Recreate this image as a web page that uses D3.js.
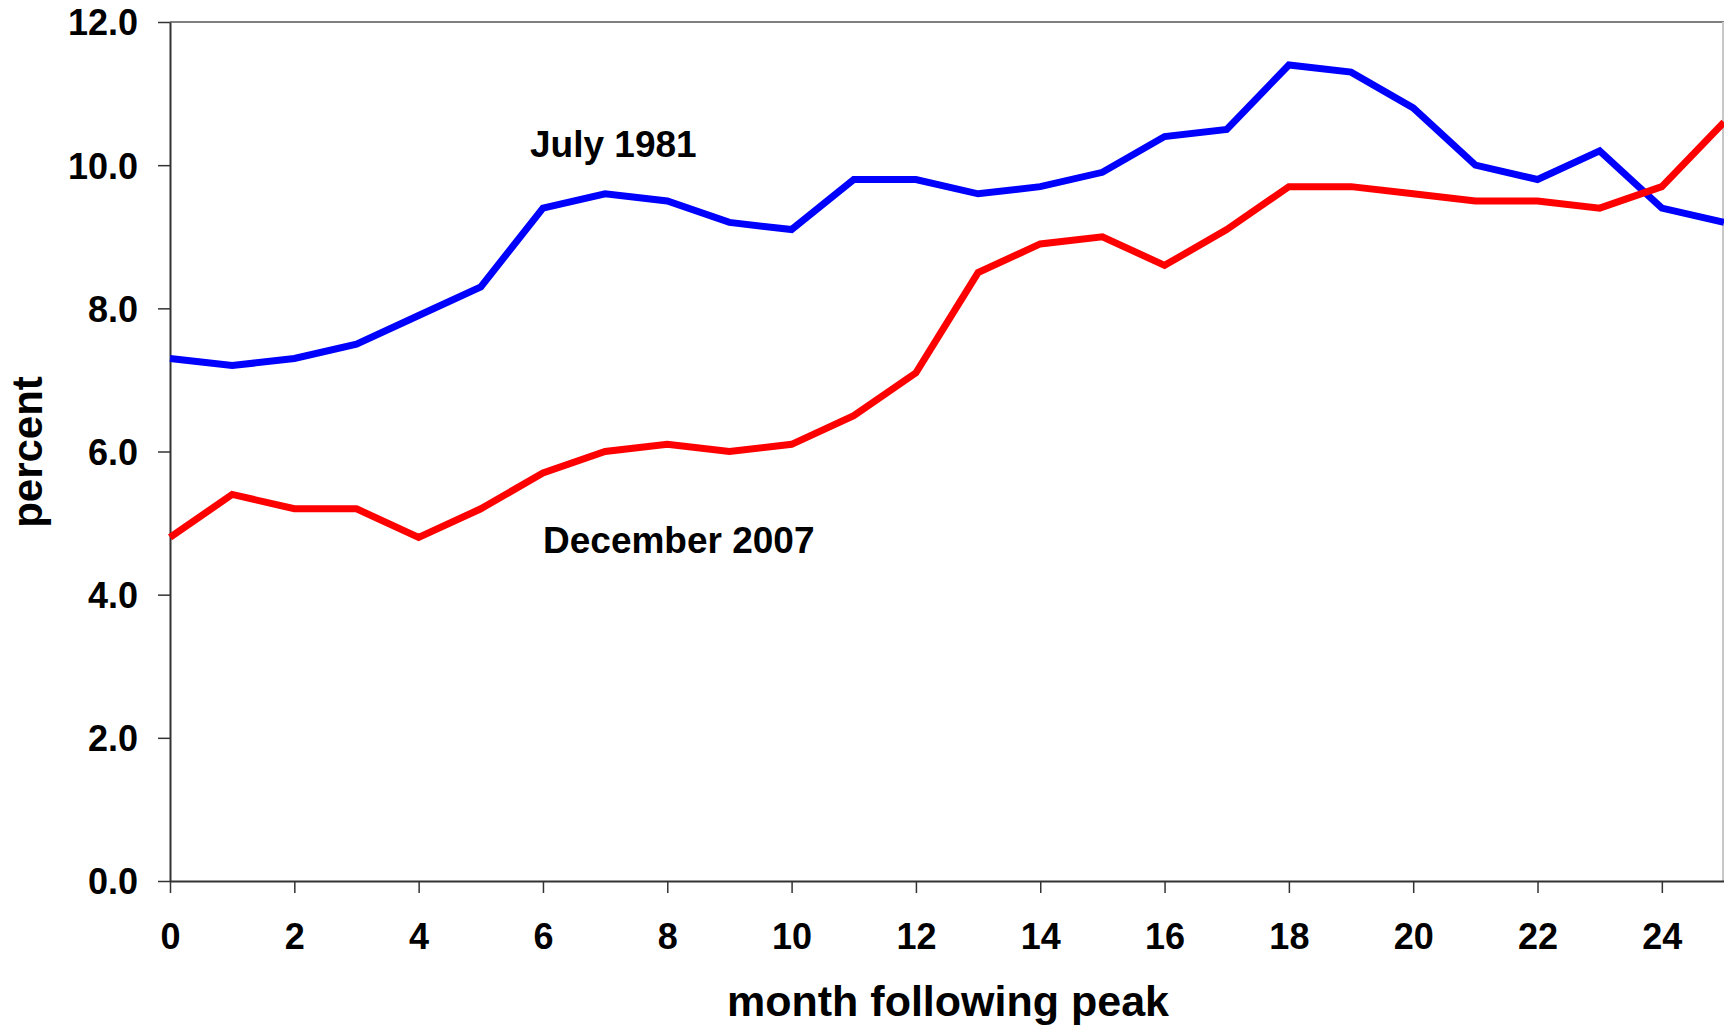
<!DOCTYPE html>
<html>
<head>
<meta charset="utf-8">
<script src="https://cdn.jsdelivr.net/npm/d3@7"></script>
<style>
  html, body { margin: 0; padding: 0; background: #fff; }
  svg { display: block; }
  text { font-family: "Liberation Sans", Arial, sans-serif; font-weight: bold; fill: #000; }
</style>
</head>
<body>
<svg id="chart" width="1724" height="1029"></svg>
<script>
const months = d3.range(0, 26);
const july1981 = [7.3, 7.2, 7.3, 7.5, 7.9, 8.3, 9.4, 9.6, 9.5, 9.2, 9.1, 9.8, 9.8, 9.6, 9.7, 9.9, 10.4, 10.5, 11.4, 11.3, 10.8, 10.0, 9.8, 10.2, 9.4, 9.2];
const dec2007 = [4.8, 5.4, 5.2, 5.2, 4.8, 5.2, 5.7, 6.0, 6.1, 6.0, 6.1, 6.5, 7.1, 8.5, 8.9, 9.0, 8.6, 9.1, 9.7, 9.7, 9.6, 9.5, 9.5, 9.4, 9.7, 10.6];
const xTicks = [0, 2, 4, 6, 8, 10, 12, 14, 16, 18, 20, 22, 24];
const yTicks = [0, 2, 4, 6, 8, 10, 12];
const seriesNames = ["July 1981", "December 2007"];
const seriesColors = ["#0000ff", "#ff0000"];
const xTitle = "month following peak";
const yTitle = "percent";

(function () {
const svg = d3.select("#chart");
const pLeft = 170, pTop = 22, pRight = 1724, pBottom = 881;

const x = d3.scaleLinear().domain([0, 25]).range([pLeft, pRight]);
const y = d3.scaleLinear().domain([0, 12]).range([pBottom, pTop]);

// frame top & right
svg.append("line").attr("x1", pLeft).attr("x2", pRight).attr("y1", pTop).attr("y2", pTop)
  .attr("stroke", "#808080").attr("stroke-width", 2);
svg.append("line").attr("x1", pRight - 1).attr("x2", pRight - 1).attr("y1", pTop).attr("y2", pBottom)
  .attr("stroke", "#c8c8c8").attr("stroke-width", 2);

// axes
const yAxis = svg.append("g").attr("transform", `translate(${pLeft},0)`)
  .call(d3.axisLeft(y).tickValues(yTicks).tickFormat(d3.format(".1f")).tickSize(12).tickPadding(20).tickSizeOuter(0));
const xAxis = svg.append("g").attr("transform", `translate(0,${pBottom})`)
  .call(d3.axisBottom(x).tickValues(xTicks).tickFormat(d3.format("d")).tickSize(12).tickPadding(30).tickSizeOuter(0));

[yAxis, xAxis].forEach(g => {
  g.select(".domain").attr("stroke", "#333").attr("stroke-width", 2);
  g.selectAll(".tick line").attr("stroke", "#333").attr("stroke-width", 1.5);
  g.selectAll(".tick text").attr("font-size", 36).attr("font-family", "Liberation Sans, Arial, sans-serif")
    .attr("font-weight", "bold").attr("fill", "#000");
});
yAxis.selectAll(".tick text").attr("dy", "0.36em");

// lines
const line = d3.line().x((d, i) => x(months[i])).y(d => y(d));
[july1981, dec2007].forEach((s, k) => {
  svg.append("path").datum(s).attr("d", line)
    .attr("fill", "none").attr("stroke", seriesColors[k]).attr("stroke-width", 7)
    .attr("stroke-linejoin", "miter");
});

// series labels
svg.append("text").attr("x", 530).attr("y", 157).attr("font-size", 37).text(seriesNames[0]);
svg.append("text").attr("x", 543).attr("y", 553).attr("font-size", 37).text(seriesNames[1]);

// axis titles
svg.append("text").attr("x", 948).attr("y", 1016).attr("text-anchor", "middle").attr("font-size", 43).text(xTitle);
svg.append("text").attr("transform", "translate(42,452) rotate(-90)").attr("text-anchor", "middle").attr("font-size", 42).text(yTitle);
})();
</script>
</body>
</html>
